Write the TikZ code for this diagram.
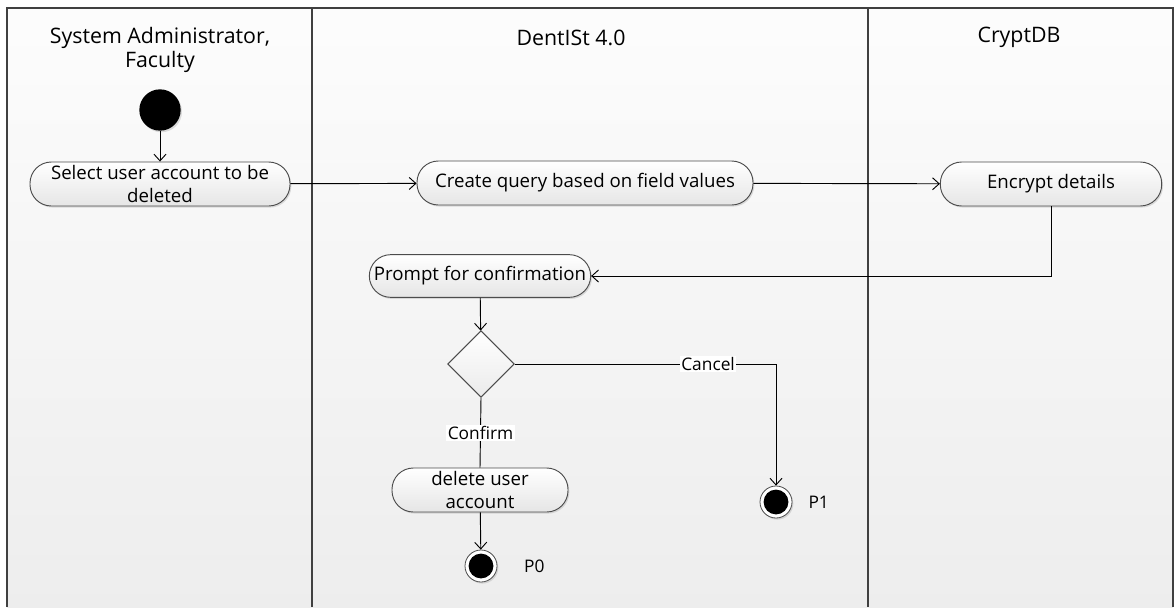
\documentclass[tikz,border=0pt]{standalone}
\usepackage{fontspec}
\setmainfont{Open Sans}
\usetikzlibrary{arrows.meta,positioning,calc,shapes.geometric,shadows}

\begin{document}
\begin{tikzpicture}[x=0.75pt, y=-0.75pt, >={Straight Barb[length=5pt,width=9pt]},
    action/.style={rectangle, rounded corners=16pt, draw=black!70, line width=0.7pt,
        top color=white, bottom color=black!10, align=center, inner sep=0pt,
        minimum height=33pt, font=\fontsize{14}{17}\selectfont,
        drop shadow={shadow xshift=1pt, shadow yshift=-1.2pt, opacity=0.25}},
    decision/.style={diamond, draw=black!70, line width=0.7pt, top color=white,
        bottom color=black!8, minimum width=50pt, minimum height=50pt, inner sep=0pt},
    startnode/.style={circle, fill=black, minimum size=31pt, inner sep=0pt,
        drop shadow={shadow xshift=1pt, shadow yshift=-1.2pt, opacity=0.25}},
    endnode/.style={circle, draw=black!70, fill=white, line width=0.6pt, minimum size=24pt,
        inner sep=0pt, path picture={\fill[black] (path picture bounding box.center) circle (9.3pt);},
        drop shadow={shadow xshift=1pt, shadow yshift=-1.2pt, opacity=0.25}},
    lanetitle/.style={font=\fontsize{16}{18}\selectfont, align=center},
    guard/.style={fill=white, inner sep=1pt, font=\fontsize{13}{14}\selectfont}]

    \useasboundingbox (0,0) rectangle (1174,607);

    % Lanes
    \shade[top color=black!1, bottom color=black!7] (7,8) rectangle (1173,607);
    \draw[black!75, line width=1pt] (7,607) -- (7,8) -- (1173,8) -- (1173,607);
    \draw[black!75, line width=1pt] (312,8) -- (312,607);
    \draw[black!75, line width=1pt] (868,8) -- (868,607);

    % Lane titles
    \node[lanetitle] (admin) at (160,50) {System Administrator,\\Faculty};
    \node[lanetitle] (dentist) at (571,38) {DentISt 4.0};
    \node[lanetitle] (cryptdb) at (1019,37) {CryptDB};

    % Activities
    \node[startnode] (start) at (160,110) {};
    \node[action, minimum width=195pt] (select) at (160,184)
        {Select user account to be\\deleted};
    \node[action, minimum width=252pt] (create) at (585,183)
        {Create query based on field values};
    \node[action, minimum width=166pt] (encrypt) at (1051,184) {Encrypt details};
    \node[action, minimum width=166pt, minimum height=32pt] (prompt) at (480,276)
        {Prompt for confirmation};
    \node[decision] (choice) at (481,364) {};
    \node[action, minimum width=132pt] (delete) at (480,490)
        {delete user\\account};
    \node[endnode] (end0) at (481,566) {};
    \node[endnode] (end1) at (776,502) {};

    % End labels
    \node[font=\fontsize{13}{14}\selectfont, right=40pt of end0.center, anchor=center] (p0) {P0};
    \node[font=\fontsize{13}{14}\selectfont, right=32pt of end1.center, anchor=center] (p1) {P1};

    % Flows
    \draw[->, line width=0.7pt] (start) -- (select);
    \draw[->, line width=0.7pt] (select) -- (create);
    \draw[->, line width=0.7pt] (create) -- (encrypt);
    \draw[->, line width=0.7pt] (encrypt.south) |- (prompt.east);
    \draw[->, line width=0.7pt] (prompt) -- (choice);
    \draw[->, line width=0.7pt] (choice.east) -| node[guard, pos=0.37] {Cancel} (end1.north);
    \draw[line width=0.7pt] (choice.south) -- node[guard] {Confirm} (delete.north);
    \draw[->, line width=0.7pt] (delete) -- (end0);
\end{tikzpicture}
\end{document}
